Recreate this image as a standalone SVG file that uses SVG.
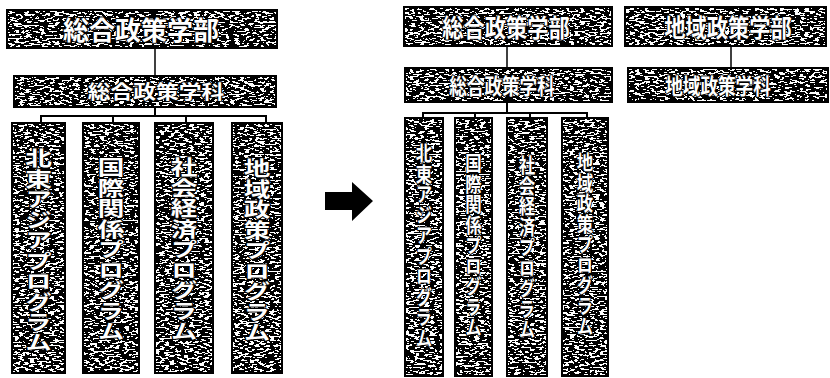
<svg xmlns="http://www.w3.org/2000/svg" width="830" height="378" viewBox="0 0 830 378">
<defs>
<filter id="dither" x="0" y="0" width="1" height="1" color-interpolation-filters="sRGB">
<feTurbulence type="fractalNoise" baseFrequency="0.2 0.55" numOctaves="2" seed="7" result="n"/>
<feColorMatrix in="n" type="matrix" values="1 0 0 0 0  1 0 0 0 0  1 0 0 0 0  0 0 0 0 1" result="g"/>
<feComponentTransfer in="g" result="t">
<feFuncR type="discrete" tableValues="0 0 0 0 0 0 0 0 0 0 0 1 1 1 1 1 1 1 1 1"/>
<feFuncG type="discrete" tableValues="0 0 0 0 0 0 0 0 0 0 0 1 1 1 1 1 1 1 1 1"/>
<feFuncB type="discrete" tableValues="0 0 0 0 0 0 0 0 0 0 0 1 1 1 1 1 1 1 1 1"/>
</feComponentTransfer>
<feComposite in="t" in2="SourceGraphic" operator="in"/>
</filter>
</defs>
<style>
.bg{fill:#000;filter:url(#dither)}
.bd{fill:none;stroke:#000;stroke-width:2}
.t{font-family:"Noto Sans CJK JP","Noto Sans CJK SC",sans-serif;font-weight:bold;fill:#fff;stroke:#000;stroke-width:2;paint-order:stroke;stroke-linejoin:round}
.h{text-anchor:middle;dominant-baseline:central}
.v{writing-mode:vertical-rl;text-anchor:start}
.ln{stroke:#000;stroke-width:2;fill:none}
.thin{stroke:#000;stroke-width:1.5;fill:none}
</style>
<rect width="830" height="378" fill="#fff"/>

<g id="connectors">
<line class="thin" x1="155" y1="48" x2="155" y2="76"/>
<line class="ln" x1="155" y1="107" x2="155" y2="116"/>
<polyline class="ln" points="41,122 41,116 266,116 266,122"/>
<line class="ln" x1="113" y1="116" x2="113" y2="122"/>
<line class="ln" x1="186" y1="116" x2="186" y2="122"/>
<line class="thin" x1="507" y1="46" x2="507" y2="68"/>
<line class="thin" x1="731" y1="46" x2="731" y2="68"/>
<line class="ln" x1="507" y1="102" x2="507" y2="113"/>
<polyline class="ln" points="423,118 423,113 587,113 587,118"/>
<line class="ln" x1="475" y1="113" x2="475" y2="118"/>
<line class="ln" x1="530" y1="113" x2="530" y2="118"/>
</g>

<g id="arrow">
<polygon points="325,192 352,192 352,182 373,201 352,221 352,210 325,210" fill="#000"/>
</g>

<g id="L-faculty">
<rect class="bg" x="7" y="10" width="270" height="38"/>
<rect class="bd" x="7" y="10" width="270" height="38"/>
<text class="t h" transform="translate(141,28)" font-size="26">総合政策学部</text>
</g>
<g id="L-dept">
<rect class="bg" x="14" y="76" width="262" height="31"/>
<rect class="bd" x="14" y="76" width="262" height="31"/>
<text class="t h" transform="translate(156,91) scale(1.2,1)" font-size="19">総合政策学科</text>
</g>
<g id="L-p1">
<rect class="bg" x="12" y="123" width="53" height="250"/>
<rect class="bd" x="12" y="123" width="53" height="250"/>
<text class="t v" transform="translate(38.5,148) scale(1.3,1)" font-size="20.5">北東アジアプログラム</text>
</g>
<g id="L-p2">
<rect class="bg" x="83" y="123" width="56" height="250"/>
<rect class="bd" x="83" y="123" width="56" height="250"/>
<text class="t v" transform="translate(111,157) scale(1.3,1)" font-size="20.5">国際関係プログラム</text>
</g>
<g id="L-p3">
<rect class="bg" x="155" y="123" width="58" height="250"/>
<rect class="bd" x="155" y="123" width="58" height="250"/>
<text class="t v" transform="translate(184,157) scale(1.3,1)" font-size="20.5">社会経済プログラム</text>
</g>
<g id="L-p4">
<rect class="bg" x="232" y="123" width="50" height="250"/>
<rect class="bd" x="232" y="123" width="50" height="250"/>
<text class="t v" transform="translate(257,158) scale(1.3,1)" font-size="20.5">地域政策プログラム</text>
</g>

<g id="R-faculty1">
<rect class="bg" x="404" y="7" width="208" height="39"/>
<rect class="bd" x="404" y="7" width="208" height="39"/>
<text class="t h" transform="translate(506,26) scale(0.85,1)" font-size="25">総合政策学部</text>
</g>
<g id="R-faculty2">
<rect class="bg" x="625" y="7" width="201" height="39"/>
<rect class="bd" x="625" y="7" width="201" height="39"/>
<text class="t h" transform="translate(728,26) scale(0.85,1)" font-size="25">地域政策学部</text>
</g>
<g id="R-dept1">
<rect class="bg" x="405" y="68" width="207" height="34"/>
<rect class="bd" x="405" y="68" width="207" height="34"/>
<text class="t h" transform="translate(502,85) scale(0.8,1)" font-size="22">総合政策学科</text>
</g>
<g id="R-dept2">
<rect class="bg" x="628" y="68" width="200" height="34"/>
<rect class="bd" x="628" y="68" width="200" height="34"/>
<text class="t h" transform="translate(718,85) scale(0.8,1)" font-size="22">地域政策学科</text>
</g>
<g id="R-p1">
<rect class="bg" x="405" y="118" width="38" height="258"/>
<rect class="bd" x="405" y="118" width="38" height="258"/>
<text class="t v" transform="translate(424,143) scale(0.8,1)" font-size="20.5">北東アジアプログラム</text>
</g>
<g id="R-p2">
<rect class="bg" x="455" y="118" width="37" height="258"/>
<rect class="bd" x="455" y="118" width="37" height="258"/>
<text class="t v" transform="translate(473.5,153) scale(0.8,1)" font-size="20.5">国際関係プログラム</text>
</g>
<g id="R-p3">
<rect class="bg" x="507" y="118" width="40" height="258"/>
<rect class="bd" x="507" y="118" width="40" height="258"/>
<text class="t v" transform="translate(527,155) scale(0.8,1)" font-size="20.5">社会経済プログラム</text>
</g>
<g id="R-p4">
<rect class="bg" x="562" y="118" width="46" height="258"/>
<rect class="bd" x="562" y="118" width="46" height="258"/>
<text class="t v" transform="translate(585,152) scale(0.8,1)" font-size="20.5">地域政策プログラム</text>
</g>
</svg>
